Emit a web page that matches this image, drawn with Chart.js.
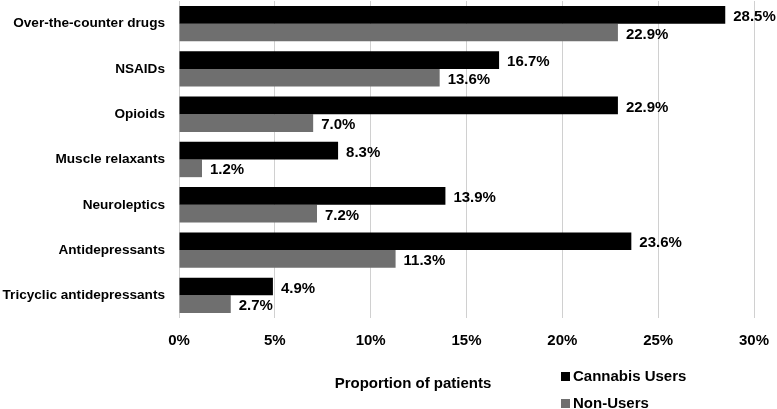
<!DOCTYPE html>
<html>
<head>
<meta charset="utf-8">
<script src="https://cdn.jsdelivr.net/npm/chart.js@4"></script>
<style>
  html, body { margin: 0; padding: 0; background: #fff; }
  #wrap { width: 777px; height: 409px; position: relative; }
</style>
</head>
<body>
<div id="wrap"><canvas id="chart"></canvas></div>
<script>
var categories = ['Over-the-counter drugs', 'NSAIDs', 'Opioids', 'Muscle relaxants',
    'Neuroleptics', 'Antidepressants', 'Tricyclic antidepressants'];
var cannabisUsers = [28.5, 16.7, 22.9, 8.3, 13.9, 23.6, 4.9];
var nonUsers = [22.9, 13.6, 7.0, 1.2, 7.2, 11.3, 2.7];
var seriesNames = ['Cannabis Users', 'Non-Users'];
var xTicks = [0, 5, 10, 15, 20, 25, 30];
var axisTitle = 'Proportion of patients';

var FAMILY = '"Liberation Sans", Arial, sans-serif';
var FONT = 'bold 15px ' + FAMILY;
var colors = ['#000000', '#6f6f6f'];

// value labels next to each bar end
var valueLabels = {
    id: 'valueLabels',
    afterDatasetsDraw: function (chart) {
        var ctx = chart.ctx;
        ctx.save();
        ctx.font = FONT;
        ctx.fillStyle = '#000';
        ctx.textAlign = 'left';
        ctx.textBaseline = 'middle';
        chart.data.datasets.forEach(function (ds, i) {
            chart.getDatasetMeta(i).data.forEach(function (bar, j) {
                ctx.fillText(ds.data[j].toFixed(1) + '%', bar.x + 8, bar.y + 2);
            });
        });
        ctx.restore();
    }
};

// axis title and legend placed like the original figure
var extras = {
    id: 'extras',
    afterDraw: function (chart) {
        var ctx = chart.ctx;
        ctx.save();
        ctx.font = FONT;
        ctx.fillStyle = '#000';
        ctx.textBaseline = 'middle';
        ctx.textAlign = 'center';
        ctx.fillText(axisTitle, 413, 384);
        ctx.textAlign = 'left';
        var ys = [376, 403];
        seriesNames.forEach(function (name, i) {
            ctx.fillStyle = colors[i];
            ctx.fillRect(561, ys[i] - 4, 9, 9);
            ctx.fillStyle = '#000';
            ctx.fillText(name, 573, ys[i] + 1);
        });
        ctx.restore();
    }
};

new Chart(document.getElementById('chart'), {
    type: 'bar',
    data: {
        labels: categories,
        datasets: [
            { label: seriesNames[0], data: cannabisUsers, backgroundColor: colors[0] },
            { label: seriesNames[1], data: nonUsers, backgroundColor: colors[1] }
        ]
    },
    options: {
        indexAxis: 'y',
        responsive: true,
        maintainAspectRatio: false,
        animation: false,
        datasets: { bar: { categoryPercentage: 0.78, barPercentage: 1.0 } },
        layout: { padding: { top: 1, right: 23, left: 0, bottom: 0 } },
        plugins: { legend: { display: false }, tooltip: { enabled: false } },
        scales: {
            x: {
                min: 0, max: 30,
                afterBuildTicks: function (axis) {
                    axis.ticks = xTicks.map(function (v) { return { value: v }; });
                },
                afterFit: function (axis) {
                    axis.height = 91;
                    axis.paddingLeft = 0;
                    axis.paddingRight = 0;
                },
                grid: { color: '#d0d0d0', lineWidth: 1, drawTicks: false },
                border: { display: false },
                ticks: {
                    color: '#000',
                    font: { family: FAMILY, size: 15, weight: 'bold' },
                    padding: 14,
                    maxRotation: 0,
                    callback: function (v) { return v + '%'; }
                }
            },
            y: {
                afterFit: function (axis) {
                    axis.width = 179;
                    axis.paddingTop = 0;
                    axis.paddingBottom = 0;
                },
                grid: { display: false, drawTicks: false },
                border: { display: false },
                ticks: {
                    color: '#000',
                    font: { family: FAMILY, size: 13.6, weight: 'bold' },
                    padding: 14
                }
            }
        }
    },
    plugins: [valueLabels, extras]
});
</script>
</body>
</html>
